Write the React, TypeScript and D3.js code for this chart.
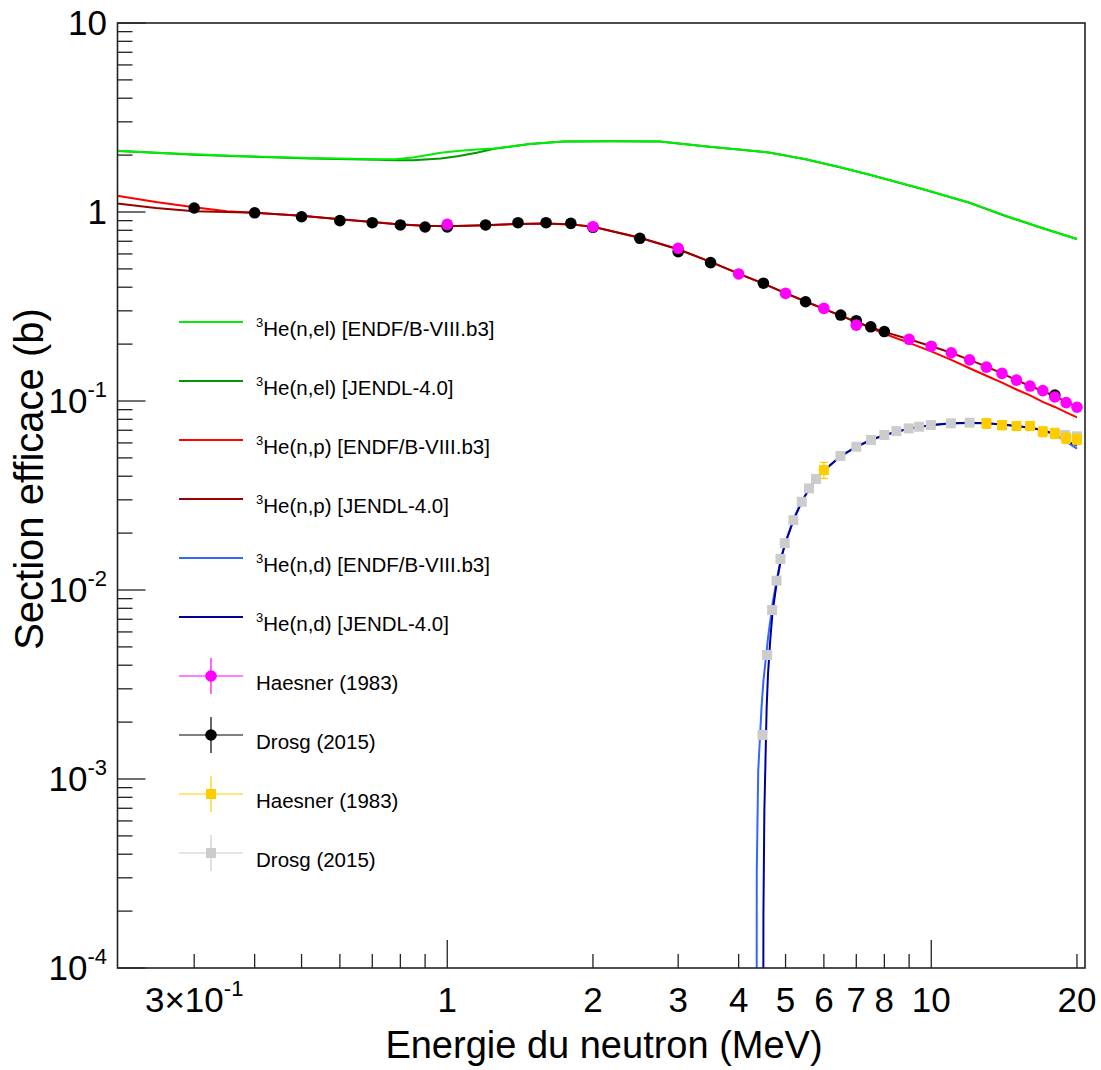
import React from "react";
import * as d3 from "d3";

// ---------- data ----------
const EL_E = [0.208, 0.25, 0.3, 0.37, 0.52, 0.72, 0.78, 0.85, 0.97, 1.05, 1.15, 1.25, 1.48, 1.74, 2.2, 2.75, 3.44, 4.0, 4.65, 5.5, 6.38, 7.5, 9.49, 12, 14.1, 17, 20];
const EL_ENDF = [2.11, 2.06, 2.02, 1.98, 1.93, 1.9, 1.9, 1.94, 2.06, 2.1, 2.14, 2.17, 2.29, 2.36, 2.37, 2.36, 2.22, 2.14, 2.06, 1.9, 1.74, 1.57, 1.335, 1.12, 0.965, 0.82, 0.72];
const EL_JENDL = [2.1, 2.06, 2.01, 1.97, 1.92, 1.89, 1.88, 1.88, 1.92, 1.97, 2.06, 2.16, 2.29, 2.36, 2.37, 2.36, 2.22, 2.14, 2.06, 1.9, 1.74, 1.57, 1.33, 1.12, 0.96, 0.82, 0.72];

const NP_E = [0.208, 0.25, 0.3, 0.35, 0.4, 0.5, 0.6, 0.7, 0.8, 0.9, 1.0, 1.2, 1.4, 1.6, 1.8, 2.0, 2.5, 3.0, 3.5, 4.0, 4.5, 5.0, 5.5, 6.0, 7.0, 8.0, 9.0, 10, 11, 12, 13, 14, 15, 16, 17, 18, 19, 20];
const NP_ENDF = [1.22, 1.13, 1.06, 1.01, 0.99, 0.955, 0.915, 0.885, 0.86, 0.845, 0.84, 0.85, 0.865, 0.87, 0.86, 0.835, 0.73, 0.635, 0.545, 0.472, 0.418, 0.372, 0.336, 0.307, 0.262, 0.227, 0.203, 0.183, 0.165, 0.149, 0.136, 0.125, 0.115, 0.107, 0.099, 0.093, 0.087, 0.082];
const NP_JENDL = [1.11, 1.05, 1.01, 1.0, 0.99, 0.955, 0.915, 0.885, 0.86, 0.845, 0.84, 0.85, 0.865, 0.87, 0.86, 0.835, 0.73, 0.635, 0.545, 0.472, 0.418, 0.372, 0.336, 0.307, 0.262, 0.232, 0.212, 0.195, 0.18, 0.165, 0.152, 0.14, 0.129, 0.12, 0.113, 0.106, 0.099, 0.093];

const ND_E_ENDF = [4.356, 4.36, 4.39, 4.46, 4.5, 4.6, 4.7, 4.8, 4.9, 5.0, 5.2, 5.4, 5.6, 5.8, 6.0, 6.5, 7, 7.5, 8, 9, 10, 11, 12, 13, 14, 15, 16, 17, 18, 19, 20];
const ND_ENDF = [1e-5, 3.2e-4, 1.1e-3, 2.4e-3, 3.3e-3, 5.6e-3, 8.5e-3, 0.0115, 0.015, 0.018, 0.024, 0.0295, 0.0345, 0.039, 0.043, 0.051, 0.057, 0.062, 0.066, 0.0715, 0.0745, 0.076, 0.0765, 0.0762, 0.0752, 0.0738, 0.072, 0.07, 0.0665, 0.061, 0.056];
const ND_E_JENDL = [4.495, 4.5, 4.52, 4.57, 4.6, 4.65, 4.7, 4.8, 4.9, 5.0, 5.2, 5.4, 5.6, 5.8, 6.0, 6.5, 7, 7.5, 8, 9, 10, 11, 12, 13, 14, 15, 16, 17, 18, 19, 20];
const ND_JENDL = [1e-5, 1.9e-4, 6.7e-4, 2.4e-3, 3.6e-3, 5.5e-3, 7.6e-3, 0.0112, 0.0148, 0.0178, 0.0236, 0.0293, 0.0344, 0.0388, 0.0428, 0.0512, 0.0573, 0.0622, 0.0661, 0.0716, 0.0746, 0.0762, 0.0768, 0.0763, 0.0752, 0.0738, 0.0721, 0.0702, 0.0668, 0.0618, 0.058];

const HAESNER_NP_E = [1.0, 2.0, 3.0, 4.0, 5.0, 6.0, 7.0, 9.0, 10, 11, 12, 13, 14, 15, 16, 17, 18, 19, 20];
const HAESNER_NP = [0.86, 0.836, 0.643, 0.47, 0.371, 0.309, 0.252, 0.212, 0.195, 0.18, 0.165, 0.151, 0.14, 0.129, 0.12, 0.1135, 0.105, 0.098, 0.0927];

const DROSG_NP_E = [0.3, 0.4, 0.5, 0.6, 0.7, 0.8, 0.9, 1.0, 1.2, 1.4, 1.6, 1.8, 2.0, 2.5, 3.0, 3.5, 4.5, 5.5, 6.5, 7.0, 7.5, 8.0, 18];
const DROSG_NP = [1.05, 0.99, 0.944, 0.9, 0.878, 0.854, 0.833, 0.833, 0.854, 0.878, 0.878, 0.871, 0.83, 0.726, 0.617, 0.54, 0.42, 0.335, 0.285, 0.266, 0.247, 0.233, 0.1076];

const HAESNER_ND_E = [6.0, 13, 14, 15, 16, 17, 18, 19, 20];
const HAESNER_ND = [0.0431, 0.0762, 0.0746, 0.0738, 0.0738, 0.0689, 0.0675, 0.0636, 0.0627];
const HAESNER_ND_ERR = [0.0042, 0.0045, 0.0042, 0.004, 0.004, 0.0042, 0.0042, 0.004, 0.004];

const DROSG_ND_E = [4.48, 4.58, 4.69, 4.79, 4.88, 4.98, 5.19, 5.4, 5.59, 5.78, 6.49, 7.0, 7.51, 8.0, 8.47, 8.98, 9.44, 9.98, 10.98, 12.0, 18.9, 20];
const DROSG_ND = [0.00171, 0.00453, 0.00783, 0.0112, 0.0146, 0.0177, 0.0234, 0.0293, 0.0345, 0.0387, 0.0512, 0.0573, 0.0622, 0.0661, 0.0693, 0.0716, 0.0731, 0.0746, 0.0762, 0.0768, 0.0661, 0.065];

const X_LABEL_VALUES = [0.3, 1, 2, 3, 4, 5, 6, 7, 8, 10, 20];
const X_LABEL_TEXT = ["3\u00d710", "1", "2", "3", "4", "5", "6", "7", "8", "10", "20"];
const X_LABEL_SUP = ["-1", "", "", "", "", "", "", "", "", "", ""];
const Y_LABEL_VALUES = [1e-4, 1e-3, 1e-2, 1e-1, 1, 10];
const Y_LABEL_TEXT = ["10", "10", "10", "10", "1", "10"];
const Y_LABEL_SUP = ["-4", "-3", "-2", "-1", "", ""];

const LINE_LABELS = [
  ["(n,el) [ENDF/B-VIII.b3]", "#00ee00"],
  ["(n,el) [JENDL-4.0]", "#009900"],
  ["(n,p) [ENDF/B-VIII.b3]", "#ff0000"],
  ["(n,p) [JENDL-4.0]", "#990000"],
  ["(n,d) [ENDF/B-VIII.b3]", "#3366ff"],
  ["(n,d) [JENDL-4.0]", "#000099"],
];
const MARKER_LABELS = [
  ["Haesner (1983)", "#ff00ff", "circle"],
  ["Drosg (2015)", "#000000", "circle"],
  ["Haesner (1983)", "#ffcc00", "square"],
  ["Drosg (2015)", "#cccccc", "square"],
];

// ---------- layout ----------
const W = 1101, H = 1070;
const L = 117.5, R = 1085, T = 23, B = 968;
const FONT = "'Liberation Sans', Arial, Helvetica, sans-serif";

export default function App() {
  const x = d3.scaleLog().domain([0.2083, 20.78]).range([L, R]);
  const y = d3.scaleLog().domain([1e-4, 10]).range([B, T]);
  const line = d3
    .line<[number, number]>()
    .x((d) => x(d[0]))
    .y((d) => y(d[1]));
  const pts = (es: number[], vs: number[]) => es.map((e, i) => [e, vs[i]] as [number, number]);

  const curves: [number[], number[], string][] = [
    [EL_E, EL_JENDL, "#009900"],
    [EL_E, EL_ENDF, "#00ee00"],
    [NP_E, NP_ENDF, "#ff0000"],
    [NP_E, NP_JENDL, "#990000"],
    [ND_E_ENDF, ND_ENDF, "#3366ff"],
    [ND_E_JENDL, ND_JENDL, "#000099"],
  ];

  const yTicks: { v: number; major: boolean }[] = [];
  for (let d = -4; d <= 0; d++) for (let k = 1; k <= 9; k++) yTicks.push({ v: k * Math.pow(10, d), major: k === 1 });
  yTicks.push({ v: 10, major: true });
  const xTicks: { v: number; major: boolean }[] = [];
  for (let k = 3; k <= 9; k++) xTicks.push({ v: k / 10, major: false });
  for (let k = 1; k <= 9; k++) xTicks.push({ v: k, major: k === 1 });
  xTicks.push({ v: 10, major: true });
  xTicks.push({ v: 20, major: false });

  const legX0 = 179, legX1 = 243, legText = 256, legY0 = 322, legDy = 59;

  return (
    <svg width={W} height={H} style={{ position: "absolute", left: 0, top: 0, background: "#fff" }} fontFamily={FONT}>
      <rect x={0} y={0} width={W} height={H} fill="#fff" />
      <defs>
        <clipPath id="plotclip">
          <rect x={L} y={T} width={R - L} height={B - T} />
        </clipPath>
      </defs>

      {/* curves */}
      <g clipPath="url(#plotclip)" fill="none" strokeWidth={2}>
        {curves.map(([es, vs, c], i) => (
          <path key={i} d={line(pts(es, vs)) || ""} stroke={c} />
        ))}
      </g>

      {/* data points */}
      <g clipPath="url(#plotclip)">
        {DROSG_ND_E.map((e, i) => (
          <rect key={"g" + i} x={x(e) - 5} y={y(DROSG_ND[i]) - 5} width={10} height={10} fill="#cccccc" />
        ))}
        {HAESNER_ND_E.map((e, i) => {
          const cx = x(e);
          const y1 = y(HAESNER_ND[i] + HAESNER_ND_ERR[i]);
          const y2 = y(HAESNER_ND[i] - HAESNER_ND_ERR[i]);
          return (
            <g key={"y" + i} stroke="#ffcc00" strokeWidth={1.2}>
              <line x1={cx} x2={cx} y1={y1} y2={y2} />
              <line x1={cx - 4} x2={cx + 4} y1={y1} y2={y1} />
              <line x1={cx - 4} x2={cx + 4} y1={y2} y2={y2} />
              <rect x={cx - 5} y={y(HAESNER_ND[i]) - 5} width={10} height={10} fill="#ffcc00" stroke="none" />
            </g>
          );
        })}
        {DROSG_NP_E.map((e, i) => (
          <circle key={"b" + i} cx={x(e)} cy={y(DROSG_NP[i])} r={5.8} fill="#000" />
        ))}
        {HAESNER_NP_E.map((e, i) => (
          <circle key={"m" + i} cx={x(e)} cy={y(HAESNER_NP[i])} r={5.8} fill="#ff00ff" />
        ))}
      </g>

      {/* frame */}
      <rect x={L} y={T} width={R - L} height={B - T} fill="none" stroke="#222" strokeWidth={1.6} />

      {/* ticks */}
      <g stroke="#222" strokeWidth={1.3}>
        {yTicks.map((t, i) => (
          <line key={i} x1={L} x2={L + (t.major ? 28 : 15)} y1={y(t.v)} y2={y(t.v)} />
        ))}
        {xTicks.map((t, i) => (
          <line key={"x" + i} x1={x(t.v)} x2={x(t.v)} y1={B} y2={B - (t.major ? 28 : 14)} />
        ))}
      </g>

      {/* y tick labels */}
      <g fontSize={35} fill="#000" textAnchor="end">
        {Y_LABEL_VALUES.map((v, i) => (
          <text key={i} x={107} y={y(v) + 12}>
            {Y_LABEL_TEXT[i]}
            {Y_LABEL_SUP[i] && (
              <tspan fontSize={22} dy={-16}>
                {Y_LABEL_SUP[i]}
              </tspan>
            )}
          </text>
        ))}
      </g>

      {/* x tick labels */}
      <g fontSize={35} fill="#000" textAnchor="middle">
        {X_LABEL_VALUES.map((v, i) => (
          <text key={i} x={x(v)} y={1012}>
            {X_LABEL_TEXT[i]}
            {X_LABEL_SUP[i] && (
              <tspan fontSize={22} dy={-16}>
                {X_LABEL_SUP[i]}
              </tspan>
            )}
          </text>
        ))}
      </g>

      {/* axis titles */}
      <text x={604} y={1058} fontSize={38} textAnchor="middle" fill="#000">
        Energie du neutron (MeV)
      </text>
      <text transform="translate(43,479) rotate(-90)" fontSize={40} textAnchor="middle" fill="#000">
        Section efficace (b)
      </text>

      {/* legend */}
      <g fontSize={20.5} fill="#000">
        {LINE_LABELS.map(([lab, c], i) => {
          const ly = legY0 + i * legDy;
          return (
            <g key={i}>
              <line x1={legX0} x2={legX1} y1={ly} y2={ly} stroke={c} strokeWidth={2} />
              <text x={legText} y={ly + 14}>
                <tspan fontSize={13} dy={-9}>3</tspan>
                <tspan dy={9}>{"He" + lab}</tspan>
              </text>
            </g>
          );
        })}
        {MARKER_LABELS.map(([lab, c, shape], i) => {
          const ly = legY0 + (LINE_LABELS.length + i) * legDy;
          const mx = (legX0 + legX1) / 2;
          return (
            <g key={"m" + i}>
              <line x1={legX0} x2={legX1} y1={ly} y2={ly} stroke={c} strokeWidth={1.2} />
              <line x1={mx} x2={mx} y1={ly - 18} y2={ly + 18} stroke={c} strokeWidth={1.2} />
              {shape === "circle" ? (
                <circle cx={mx} cy={ly} r={5.8} fill={c} />
              ) : (
                <rect x={mx - 5} y={ly - 5} width={10} height={10} fill={c} />
              )}
              <text x={legText} y={ly + 14}>
                {lab}
              </text>
            </g>
          );
        })}
      </g>
    </svg>
  );
}
